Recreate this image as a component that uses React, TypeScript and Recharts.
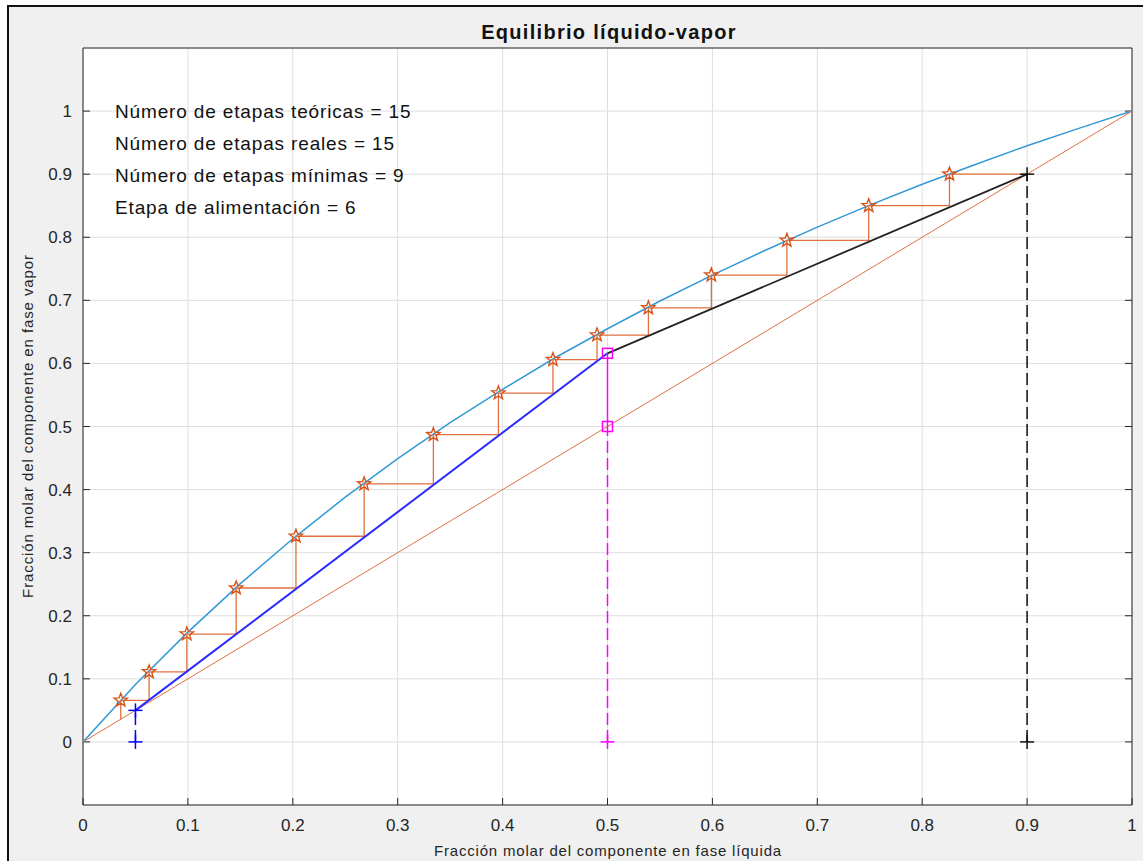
import React from "react";
import { CartesianGrid, ComposedChart, Scatter, XAxis, YAxis } from "recharts";

const FONT = "'Liberation Sans', Arial, Helvetica, sans-serif";
const AXIS = "#262626";

// axis ticks (both axes share them)
const ticks = [0, 0.1, 0.2, 0.3, 0.4, 0.5, 0.6, 0.7, 0.8, 0.9, 1];
const tickLabels = ["0", "0.1", "0.2", "0.3", "0.4", "0.5", "0.6", "0.7", "0.8", "0.9", "1"];

// equilibrium curve
const eqX = [0, 0.05, 0.1, 0.15, 0.2, 0.25, 0.3, 0.35, 0.4, 0.45, 0.5, 0.55, 0.6, 0.65, 0.7, 0.75, 0.8, 0.85, 0.9, 0.95, 1];
const eqY = [0, 0.091, 0.174, 0.251, 0.322, 0.388, 0.449, 0.506, 0.559, 0.609, 0.655, 0.699, 0.74, 0.779, 0.816, 0.851, 0.884, 0.915, 0.945, 0.973, 1];

// y = x diagonal
const diagX = [0, 1];
const diagY = [0, 1];

// compositions
const xD = 0.9;
const zF = 0.5;
const xW = 0.05;
const yQ = 0.616;

// stages (stars on the curve), top to bottom
const stageX = [0.826, 0.749, 0.671, 0.599, 0.539, 0.49, 0.448, 0.396, 0.334, 0.268, 0.203, 0.146, 0.099, 0.063, 0.036];
const stageY = [0.9, 0.85, 0.795, 0.74, 0.688, 0.645, 0.606, 0.553, 0.487, 0.409, 0.326, 0.244, 0.171, 0.111, 0.066];
const stairEndY = 0.036;

const infoLines = [
  "Número de etapas teóricas = 15",
  "Número de etapas reales = 15",
  "Número de etapas mínimas = 9",
  "Etapa de alimentación = 6",
];

const pts = (xs: number[], ys: number[]) => xs.map((x, i) => ({ x, y: ys[i] }));

const curve = pts(eqX, eqY);
const diagonal = pts(diagX, diagY);
const rectifying = pts([zF, xD], [yQ, xD]);
const stripping = pts([xW, zF], [xW, yQ]);
const qSolid = pts([zF, zF], [zF, yQ]);
const qDashed = pts([zF, zF], [0, zF]);
const xDDashed = pts([xD, xD], [0, xD]);
const xWDashed = pts([xW, xW], [0, xW]);
const stars = pts(stageX, stageY);

const stairs: { x: number; y: number }[] = [{ x: xD, y: xD }];
stageX.forEach((x, i) => {
  stairs.push({ x, y: stageY[i] });
  stairs.push({ x, y: i + 1 < stageY.length ? stageY[i + 1] : stairEndY });
});

const bluePlus = pts([xW, xW], [xW, 0]);
const magentaPlus = pts([zF], [0]);
const blackPlus = pts([xD, xD], [0, xD]);
const squares = pts([zF, zF], [zF, yQ]);

const fmt = (v: number) => {
  const i = ticks.indexOf(v);
  return i >= 0 ? tickLabels[i] : String(v);
};
const blank = () => "";

const NoDot = () => <g />;

const StarDot = (p: any) => {
  const { cx, cy } = p;
  const R = 7;
  const r = R * 0.42;
  const d = Array.from({ length: 10 }, (_, k) => {
    const a = ((-90 + k * 36) * Math.PI) / 180;
    const rr = k % 2 === 0 ? R : r;
    return `${cx + rr * Math.cos(a)},${cy + rr * Math.sin(a)}`;
  }).join(" ");
  return <polygon points={d} fill="none" stroke="#D95319" strokeWidth={1.4} />;
};

const plusDot = (color: string) => (p: any) => {
  const { cx, cy } = p;
  return (
    <g stroke={color} strokeWidth={1.5}>
      <line x1={cx - 7} y1={cy} x2={cx + 7} y2={cy} />
      <line x1={cx} y1={cy - 7} x2={cx} y2={cy + 7} />
    </g>
  );
};

const SquareDot = (p: any) => {
  const { cx, cy } = p;
  return <rect x={cx - 5} y={cy - 5} width={10} height={10} fill="none" stroke="#FF00FF" strokeWidth={1.5} />;
};

const W = 1143;
const H = 861;

export default function App() {
  const tickStyle = { fill: AXIS, fontSize: 17, fontFamily: FONT };
  return (
    <div style={{ position: "fixed", inset: 0, background: "#fff", overflow: "hidden" }}>
      <div
        style={{
          position: "absolute",
          left: 7,
          top: 5,
          width: W,
          height: H,
          background: "#f0f0f0",
          borderLeft: "2px solid #111",
          borderTop: "2px solid #111",
        }}
      />
      <div style={{ position: "absolute", left: 0, top: 0 }}>
        <ComposedChart width={W} height={H} margin={{ top: 47, right: 10, bottom: 16, left: 43 }}>
          <CartesianGrid stroke="#dedede" fill="#ffffff" fillOpacity={1} />
          <XAxis
            type="number"
            dataKey="x"
            domain={[0, 1]}
            ticks={ticks}
            interval={0}
            allowDataOverflow
            tickFormatter={fmt}
            height={40}
            tickSize={-7}
            tickMargin={21}
            axisLine={{ stroke: AXIS }}
            tickLine={{ stroke: AXIS }}
            tick={tickStyle}
          />
          <XAxis
            xAxisId="top"
            orientation="top"
            type="number"
            domain={[0, 1]}
            ticks={ticks}
            interval={0}
            allowDataOverflow
            tickFormatter={blank}
            height={1}
            tickSize={-7}
            axisLine={{ stroke: AXIS }}
            tickLine={{ stroke: AXIS }}
          />
          <YAxis
            type="number"
            dataKey="y"
            domain={[-0.1, 1.1]}
            ticks={ticks}
            interval={0}
            allowDataOverflow
            tickFormatter={fmt}
            width={40}
            tickSize={-7}
            tickMargin={18}
            axisLine={{ stroke: AXIS }}
            tickLine={{ stroke: AXIS }}
            tick={tickStyle}
          />
          <YAxis
            yAxisId="right"
            orientation="right"
            type="number"
            domain={[-0.1, 1.1]}
            ticks={ticks}
            interval={0}
            allowDataOverflow
            tickFormatter={blank}
            width={1}
            tickSize={-7}
            axisLine={{ stroke: AXIS }}
            tickLine={{ stroke: AXIS }}
          />

          <Scatter data={curve} shape={NoDot} line={{ stroke: "#3399d6", strokeWidth: 1.5 }} lineType="joint" isAnimationActive={false} />
          <Scatter data={diagonal} shape={NoDot} line={{ stroke: "#E0703F", strokeWidth: 1 }} lineType="joint" isAnimationActive={false} />
          <Scatter data={qDashed} shape={NoDot} line={{ stroke: "#FF00FF", strokeWidth: 1.5, strokeDasharray: "12 5" }} lineType="joint" isAnimationActive={false} />
          <Scatter data={xDDashed} shape={NoDot} line={{ stroke: "#111", strokeWidth: 1.5, strokeDasharray: "12 5" }} lineType="joint" isAnimationActive={false} />
          <Scatter data={xWDashed} shape={NoDot} line={{ stroke: "#0000FF", strokeWidth: 1.5, strokeDasharray: "12 5" }} lineType="joint" isAnimationActive={false} />
          <Scatter data={stairs} shape={NoDot} line={{ stroke: "#E0703F", strokeWidth: 1.3 }} lineType="joint" isAnimationActive={false} />
          <Scatter data={stripping} shape={NoDot} line={{ stroke: "#2a2aff", strokeWidth: 2 }} lineType="joint" isAnimationActive={false} />
          <Scatter data={rectifying} shape={NoDot} line={{ stroke: "#222", strokeWidth: 1.8 }} lineType="joint" isAnimationActive={false} />
          <Scatter data={qSolid} shape={NoDot} line={{ stroke: "#FF00FF", strokeWidth: 1.5 }} lineType="joint" isAnimationActive={false} />
          <Scatter data={stars} shape={StarDot} isAnimationActive={false} />
          <Scatter data={squares} shape={SquareDot} isAnimationActive={false} />
          <Scatter data={bluePlus} shape={plusDot("#0000FF")} isAnimationActive={false} />
          <Scatter data={magentaPlus} shape={plusDot("#FF00FF")} isAnimationActive={false} />
          <Scatter data={blackPlus} shape={plusDot("#111")} isAnimationActive={false} />
        </ComposedChart>
      </div>
      <svg width={W} height={H} style={{ position: "absolute", left: 0, top: 0, pointerEvents: "none" }}>
        <text x={609} y={39} textAnchor="middle" fontFamily={FONT} fontSize={20} fontWeight="bold" letterSpacing={1.3} fill="#111">
          Equilibrio líquido-vapor
        </text>
        {infoLines.map((t, i) => (
          <text key={t} x={115} y={118 + i * 32} fontFamily={FONT} fontSize={19} letterSpacing={0.85} fill="#111">
            {t}
          </text>
        ))}
        <text x={608} y={856} textAnchor="middle" fontFamily={FONT} fontSize={15} letterSpacing={0.8} fill={AXIS}>
          Fracción molar del componente en fase líquida
        </text>
        <text x={33} y={426} transform="rotate(-90 33 426)" textAnchor="middle" fontFamily={FONT} fontSize={15} letterSpacing={0.9} fill={AXIS}>
          Fracción molar del componente en fase vapor
        </text>
      </svg>
    </div>
  );
}
